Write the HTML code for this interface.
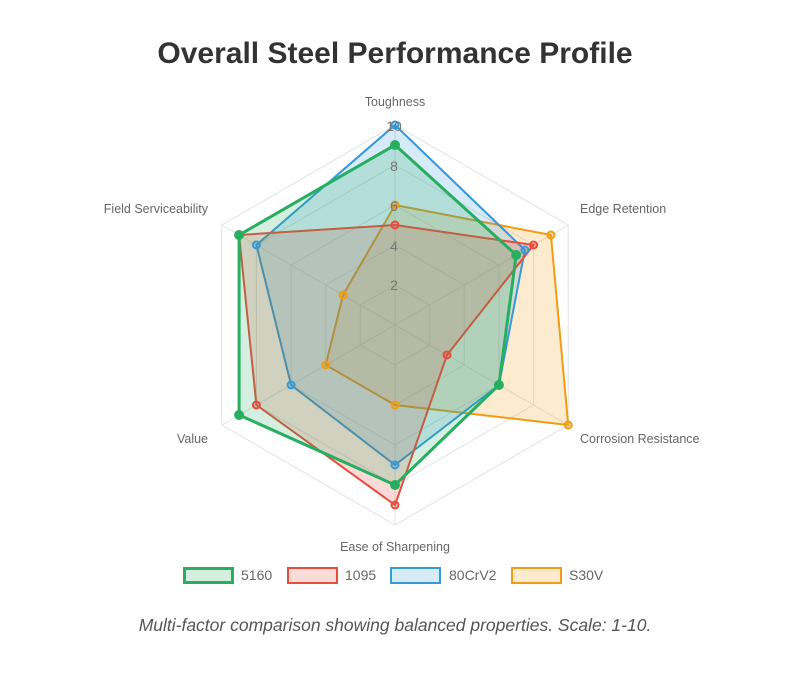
<!DOCTYPE html>
<html><head><style>
body{margin:0;background:#fff;width:792px;height:672px;overflow:hidden;font-family:"Liberation Sans",Arial,sans-serif;}
</style></head><body>
<svg width="792" height="672" xmlns="http://www.w3.org/2000/svg" font-family="Liberation Sans, Arial, sans-serif">
<text x="395" y="63" text-anchor="middle" font-size="30" font-weight="bold" fill="#333">Overall Steel Performance Profile</text>
<g transform="translate(395 325)" fill="none" stroke="#e2e2e2" stroke-width="1">
<polygon points="0,-40 34.64,-20 34.64,20 0,40 -34.64,20 -34.64,-20"/>
<polygon points="0,-80 69.28,-40 69.28,40 0,80 -69.28,40 -69.28,-40"/>
<polygon points="0,-120 103.92,-60 103.92,60 0,120 -103.92,60 -103.92,-60"/>
<polygon points="0,-160 138.56,-80 138.56,80 0,160 -138.56,80 -138.56,-80"/>
<polygon points="0,-200 173.2,-100 173.2,100 0,200 -173.2,100 -173.2,-100"/>
<line x1="0" y1="0" x2="0" y2="-200"/><line x1="0" y1="0" x2="173.2" y2="-100"/>
<line x1="0" y1="0" x2="173.2" y2="100"/><line x1="0" y1="0" x2="0" y2="200"/>
<line x1="0" y1="0" x2="-173.2" y2="100"/><line x1="0" y1="0" x2="-173.2" y2="-100"/>
</g>
<polygon points="395,205 550.9,235 568.2,425 395,405 325.7,365 343,295" fill="rgba(243,156,18,0.2)" stroke="#f39c12" stroke-width="2"/>
<polygon points="395,125 524.9,250 498.9,385 395,465 291.1,385 256.4,245" fill="rgba(52,152,219,0.2)" stroke="#3498db" stroke-width="2"/>
<polygon points="395,225 533.6,245 447,355 395,505 256.4,405 239.1,235" fill="rgba(231,76,60,0.2)" stroke="#e74c3c" stroke-width="2"/>
<polygon points="395,145 516.2,255 498.9,385 395,485 239.1,415 239.1,235" fill="rgba(39,174,96,0.2)" stroke="#27ae60" stroke-width="3"/>
<g fill="rgba(243,156,18,0.3)" stroke="#f39c12" stroke-width="2">
<circle cx="395" cy="205" r="3.5"/><circle cx="550.9" cy="235" r="3.5"/><circle cx="568.2" cy="425" r="3.5"/><circle cx="395" cy="405" r="3.5"/><circle cx="325.7" cy="365" r="3.5"/><circle cx="343" cy="295" r="3.5"/></g>
<g fill="rgba(52,152,219,0.3)" stroke="#3498db" stroke-width="2">
<circle cx="395" cy="125" r="3.5"/><circle cx="524.9" cy="250" r="3.5"/><circle cx="498.9" cy="385" r="3.5"/><circle cx="395" cy="465" r="3.5"/><circle cx="291.1" cy="385" r="3.5"/><circle cx="256.4" cy="245" r="3.5"/></g>
<g fill="rgba(231,76,60,0.3)" stroke="#e74c3c" stroke-width="2">
<circle cx="395" cy="225" r="3.5"/><circle cx="533.6" cy="245" r="3.5"/><circle cx="447" cy="355" r="3.5"/><circle cx="395" cy="505" r="3.5"/><circle cx="256.4" cy="405" r="3.5"/><circle cx="239.1" cy="235" r="3.5"/></g>
<g fill="#27ae60" stroke="#27ae60" stroke-width="2">
<circle cx="395" cy="145" r="4"/><circle cx="516.2" cy="255" r="4"/><circle cx="498.9" cy="385" r="4"/><circle cx="395" cy="485" r="4"/><circle cx="239.1" cy="415" r="4"/><circle cx="239.1" cy="235" r="4"/></g>
<g font-size="14" fill="#777" text-anchor="middle">
<text x="394" y="290">2</text><text x="394" y="251">4</text><text x="394" y="211">6</text><text x="394" y="171">8</text><text x="394" y="131">10</text>
</g>
<g font-size="12.5" fill="#666">
<text x="395" y="106" text-anchor="middle">Toughness</text>
<text x="580" y="213">Edge Retention</text>
<text x="580" y="443">Corrosion Resistance</text>
<text x="395" y="551" text-anchor="middle">Ease of Sharpening</text>
<text x="208" y="443" text-anchor="end">Value</text>
<text x="208" y="213" text-anchor="end">Field Serviceability</text>
</g>
<g font-size="14" fill="#666">
<rect x="184.5" y="568.5" width="48" height="14" fill="rgba(39,174,96,0.2)" stroke="#27ae60" stroke-width="3"/><text x="241" y="580">5160</text>
<rect x="288" y="568" width="49" height="15" fill="rgba(231,76,60,0.2)" stroke="#e74c3c" stroke-width="2"/><text x="345" y="580">1095</text>
<rect x="391" y="568" width="49" height="15" fill="rgba(52,152,219,0.2)" stroke="#3498db" stroke-width="2"/><text x="449" y="580">80CrV2</text>
<rect x="512" y="568" width="49" height="15" fill="rgba(243,156,18,0.2)" stroke="#f39c12" stroke-width="2"/><text x="569" y="580">S30V</text>
</g>
<text x="395" y="631" text-anchor="middle" font-size="17.5" font-style="italic" fill="#555">Multi-factor comparison showing balanced properties. Scale: 1-10.</text>
</svg>
</body></html>
